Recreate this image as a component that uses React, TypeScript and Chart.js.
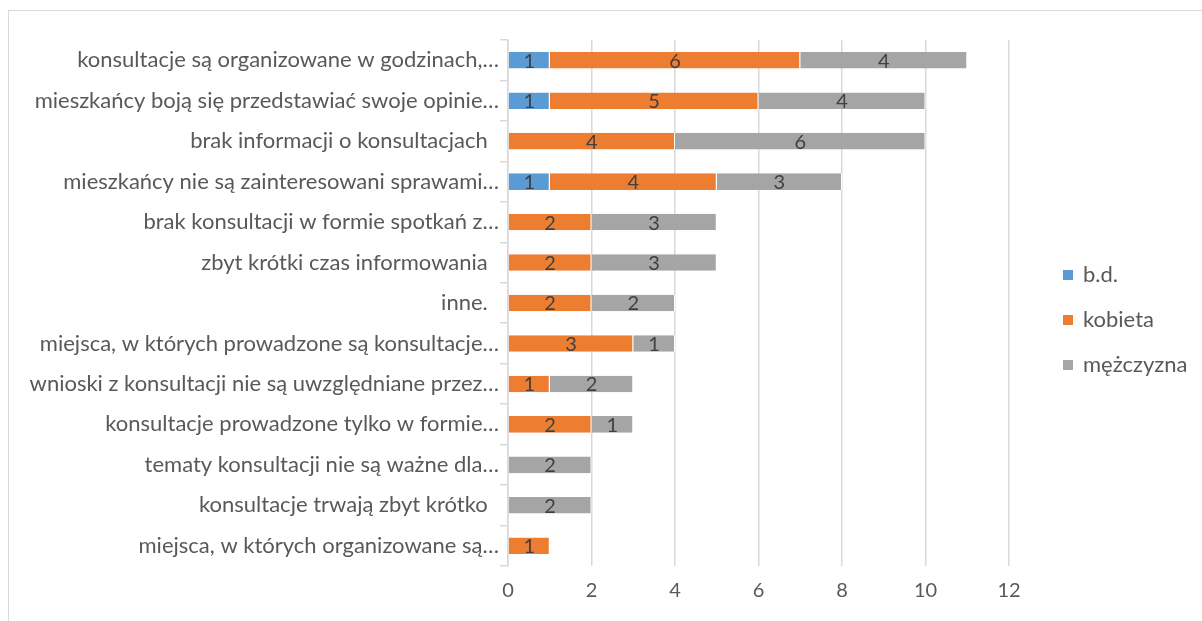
import React, { useEffect, useRef } from "react";
import { Chart, registerables } from "chart.js";

Chart.register(...registerables);

const categories: string[] = [
  "konsultacje są organizowane w godzinach,…",
  "mieszkańcy boją się przedstawiać swoje opinie…",
  "brak informacji o konsultacjach  ",
  "mieszkańcy nie są zainteresowani sprawami…",
  "brak konsultacji w formie spotkań z…",
  "zbyt krótki czas informowania  ",
  "inne.  ",
  "miejsca, w których prowadzone są konsultacje…",
  "wnioski z konsultacji nie są uwzględniane przez…",
  "konsultacje prowadzone tylko w formie…",
  "tematy konsultacji nie są ważne dla…",
  "konsultacje trwają zbyt krótko  ",
  "miejsca, w których organizowane są…",
];

const bd: (number | null)[] = [1, 1, null, 1, null, null, null, null, null, null, null, null, null];
const kobieta: (number | null)[] = [6, 5, 4, 4, 2, 2, 2, 3, 1, 2, null, null, 1];
const mezczyzna: (number | null)[] = [4, 4, 6, 3, 3, 3, 2, 1, 2, 1, 2, 2, null];

const seriesNames = ["b.d.", "kobieta", "mężczyzna"];
const seriesColors = ["#5B9BD5", "#ED7D31", "#A5A5A5"];
const xTicks = [0, 2, 4, 6, 8, 10, 12];

const FONT = "Lato, 'Open Sans', sans-serif";

export default function App() {
  const ref = useRef<HTMLCanvasElement | null>(null);

  useEffect(() => {
    if (!ref.current) return;

    const labelPlugin = {
      id: "segLabels",
      afterDatasetsDraw(chart: any) {
        const ctx = chart.ctx;
        ctx.save();
        ctx.font = `20px ${FONT}`;
        ctx.fillStyle = "#404040";
        ctx.textAlign = "center";
        ctx.textBaseline = "middle";
        chart.data.datasets.forEach((ds: any, i: number) => {
          const meta = chart.getDatasetMeta(i);
          meta.data.forEach((el: any, j: number) => {
            const v = ds.data[j];
            if (v === null || v === undefined) return;
            ctx.fillText(String(v), (el.x + el.base) / 2, el.y + 1);
          });
        });
        ctx.restore();
      },
    };

    const legendPlugin = {
      id: "customLegend",
      afterDraw(chart: any) {
        const ctx = chart.ctx;
        ctx.save();
        ctx.font = `22px ${FONT}`;
        ctx.textBaseline = "middle";
        ctx.textAlign = "left";
        chart.data.datasets.forEach((ds: any, i: number) => {
          const y = 275 + i * 45;
          ctx.fillStyle = ds.backgroundColor;
          ctx.fillRect(1063, y - 5, 10, 10);
          ctx.fillStyle = "#595959";
          ctx.fillText(ds.label, 1083, y);
        });
        ctx.restore();
      },
    };

    const mk = (idx: number, data: (number | null)[]) => ({
      label: seriesNames[idx],
      data,
      backgroundColor: seriesColors[idx],
      borderColor: "#ffffff",
      borderWidth: { top: 0, bottom: 0, left: 0, right: 1 },
      borderSkipped: false,
      categoryPercentage: 1,
      barPercentage: 0.41,
    });

    const chart = new Chart(ref.current, {
      type: "bar",
      data: {
        labels: categories,
        datasets: [mk(0, bd), mk(1, kobieta), mk(2, mezczyzna)],
      },
      options: {
        indexAxis: "y",
        animation: false,
        responsive: false,
        layout: { padding: { left: 0, right: 193, top: 40, bottom: 0 } },
        plugins: {
          legend: { display: false },
          tooltip: { enabled: false },
        },
        scales: {
          x: {
            stacked: true,
            min: 0,
            max: 12,
            afterBuildTicks: (scale: any) => {
              scale.ticks = xTicks.map((v) => ({ value: v }));
            },
            afterFit: (scale: any) => {
              scale.height = 55;
            },
            grid: { color: "#d9d9d9", lineWidth: 1.5, drawTicks: false },
            border: { display: false },
            ticks: {
              padding: 13,
              color: "#595959",
              font: { family: FONT, size: 20 },
            },
          },
          y: {
            stacked: true,
            afterFit: (scale: any) => {
              scale.width = 508;
            },
            grid: {
              drawOnChartArea: false,
              drawTicks: true,
              tickLength: 8,
              color: "#d9d9d9",
              lineWidth: 1.5,
              offset: true,
            },
            border: { display: true, color: "#d9d9d9", width: 1.5 },
            ticks: {
              padding: 1,
              autoSkip: false,
              color: "#595959",
              font: { family: FONT, size: 22 },
            },
          },
        },
      },
      plugins: [labelPlugin, legendPlugin],
    } as any);

    return () => chart.destroy();
  }, []);

  return (
    <div style={{ position: "absolute", left: 0, top: 0, width: 1202, height: 621, background: "#fff", overflow: "hidden" }}>
      <div
        style={{
          position: "absolute",
          left: 8,
          top: 10,
          width: 1200,
          height: 700,
          border: "1.5px solid #d9d9d9",
        }}
      />
      <canvas ref={ref} width={1202} height={621} style={{ position: "absolute", left: 0, top: 0, display: "block" }} />
    </div>
  );
}
